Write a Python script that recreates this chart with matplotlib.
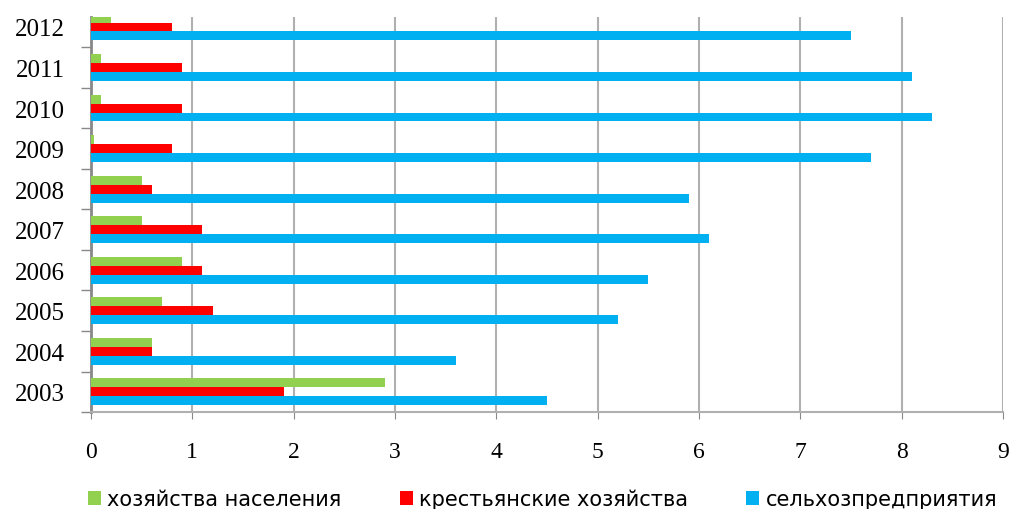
import numpy as np
import matplotlib
matplotlib.use("Agg")
import matplotlib.pyplot as plt
from matplotlib.ticker import FixedLocator

years = ["2003", "2004", "2005", "2006", "2007", "2008", "2009", "2010", "2011", "2012"]
households = [2.9, 0.6, 0.7, 0.9, 0.5, 0.5, 0.03, 0.1, 0.1, 0.2]
farms = [1.9, 0.6, 1.2, 1.1, 1.1, 0.6, 0.8, 0.9, 0.9, 0.8]
enterprises = [4.5, 3.6, 5.2, 5.5, 6.1, 5.9, 7.7, 8.3, 8.1, 7.5]
series_names = ["хозяйства населения", "крестьянские хозяйства", "сельхозпредприятия"]
colors = ["#92d050", "#ff0000", "#00b0f0"]

fig = plt.figure(figsize=(10.16, 5.1), dpi=100)
ax = fig.add_axes([0.0896, 0.19, 0.8975, 0.775])

y = np.arange(len(years))
h = 0.22
for i, vals in enumerate([households, farms, enterprises]):
    ax.barh(y + h * (1 - i), vals, height=h, color=colors[i],
            label=series_names[i], zorder=3)

ax.set_xlim(0, 9)
ax.set_ylim(-0.5, 9.25)
ax.set_xticks(range(10))
ax.set_yticks(y)
ax.set_yticklabels(years, fontsize=18, family="Liberation Serif")
ax.yaxis.set_minor_locator(FixedLocator(np.arange(-0.5, 9.6, 1)))
ax.tick_params(axis="y", which="major", length=0, pad=19)
ax.tick_params(axis="y", which="minor", length=7, color="#888888", width=1)
ax.tick_params(axis="x", length=5, color="#888888", pad=16, labelsize=17)
for lab in ax.get_xticklabels():
    lab.set_family("Liberation Serif")

ax.grid(axis="x", color="#b0b0b0", linewidth=1.5, zorder=0)
for side in ["top", "right"]:
    ax.spines[side].set_visible(False)
ax.spines["left"].set_color("#888888")
ax.spines["left"].set_linewidth(2)
ax.spines["bottom"].set_color("#b0b0b0")
ax.spines["bottom"].set_linewidth(1.5)

fig.legend(loc="center left", bbox_to_anchor=(88 / 1016, 10 / 510), ncol=3, frameon=False,
           prop={"family": "DejaVu Sans", "size": 15}, handlelength=0.62,
           handleheight=0.62, columnspacing=2.8, handletextpad=0.3,
           borderpad=0, borderaxespad=0)

fig.savefig("out.png", dpi=100)
